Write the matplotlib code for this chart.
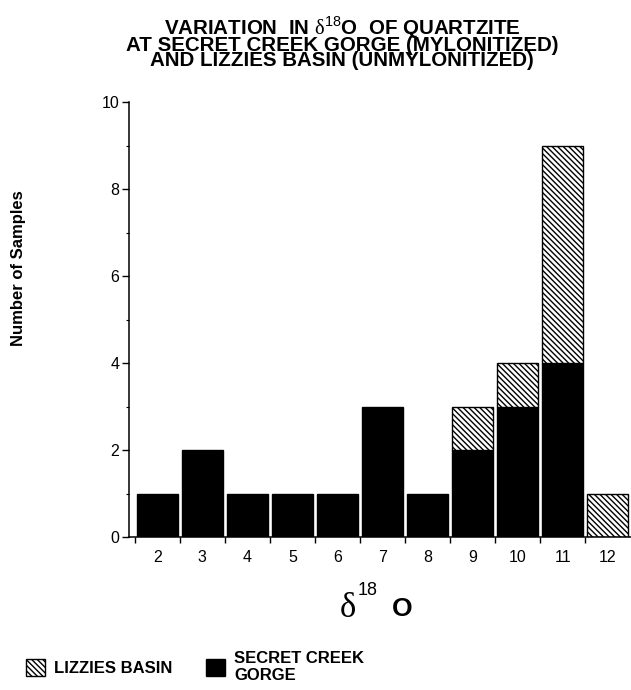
import matplotlib
matplotlib.use("Agg")
import matplotlib.pyplot as plt
from matplotlib.ticker import MultipleLocator, FixedLocator

# ---- data ----
d18O = [2, 3, 4, 5, 6, 7, 8, 9, 10, 11, 12]
secret_creek_gorge = [1, 2, 1, 1, 1, 3, 1, 2, 3, 4, 0]
lizzies_basin = [0, 0, 0, 0, 0, 0, 0, 1, 1, 5, 1]
yticks = [0, 2, 4, 6, 8, 10]
title_lines = [r"VARIATION  IN $\mathrm{\delta}^{\mathsf{18}}$O  OF QUARTZITE",
               "AT SECRET CREEK GORGE (MYLONITIZED)",
               "AND LIZZIES BASIN (UNMYLONITIZED)"]

plt.rcParams['font.family'] = ['Liberation Sans', 'DejaVu Sans']
plt.rcParams['mathtext.fontset'] = 'custom'
plt.rcParams['mathtext.rm'] = 'Liberation Serif'
plt.rcParams['mathtext.sf'] = 'Liberation Sans'
plt.rcParams['hatch.linewidth'] = 1.0

W, H = 631, 690
fig = plt.figure(figsize=(W / 100, H / 100), dpi=100)

def fx(px):
    return px / W

def fy(py):
    return 1 - py / H

ax = fig.add_axes([fx(129), fy(537), fx(631) - fx(129), fy(102) - fy(537)])

bars_scg = ax.bar(d18O, secret_creek_gorge, width=0.9, color='black',
                  edgecolor='black', linewidth=1.0, label="SECRET CREEK\nGORGE")
lb_x = [x for x, v in zip(d18O, lizzies_basin) if v > 0]
lb_v = [v for v in lizzies_basin if v > 0]
lb_b = [b for b, v in zip(secret_creek_gorge, lizzies_basin) if v > 0]
bars_lb = ax.bar(lb_x, lb_v, bottom=lb_b, width=0.9, color='white',
                 edgecolor='black', hatch='\\' * 6, linewidth=1.0,
                 label="LIZZIES BASIN")

ax.set_xlim(1.37, 12.52)
ax.set_ylim(0, 10)
for s in ['top', 'right']:
    ax.spines[s].set_visible(False)
for s in ['left', 'bottom']:
    ax.spines[s].set_linewidth(1.1)

ax.set_yticks(yticks)
ax.yaxis.set_minor_locator(MultipleLocator(1))
ax.tick_params(axis='y', which='major', length=5, width=1.0, pad=2, labelsize=11.5)
ax.tick_params(axis='y', which='minor', length=2.5, width=0.8)

ax.set_xticks(d18O)
ax.xaxis.set_minor_locator(FixedLocator([x - 0.5 for x in d18O]))
ax.tick_params(axis='x', which='major', length=0, pad=9, labelsize=11.5)
ax.tick_params(axis='x', which='minor', length=4, width=1.0)

# title (one multi-line text, tight line spacing as in the reference)
fig.text(fx(342), fy(14), "\n".join(title_lines), ha='center', va='top',
         fontsize=14.8, fontweight='bold', linespacing=0.72,
         multialignment='center')

# y label
fig.text(fx(19), fy(268), "Number of Samples", rotation=90, ha='center',
         va='center', fontsize=12, fontweight='bold')

# x label: delta 18 O
fig.text(fx(340), fy(617), "\u03b4", family='Liberation Serif', fontsize=25,
         ha='left', va='baseline')
fig.text(fx(358), fy(595), "18", fontsize=13, ha='left', va='baseline')
fig.text(fx(392), fy(616), "O", fontsize=19, fontweight='bold', ha='left',
         va='baseline')

# legend
fig.legend(handles=[bars_lb, bars_scg],
           labels=["LIZZIES BASIN", "SECRET CREEK\nGORGE"],
           loc='center left', bbox_to_anchor=(fx(26), fy(667)), ncol=2,
           frameon=False, borderpad=0, borderaxespad=0,
           handlelength=1.15, handleheight=1.15, handletextpad=0.55,
           columnspacing=2.0, prop={'weight': 'bold', 'size': 12})

fig.savefig("out.png", dpi=100)
